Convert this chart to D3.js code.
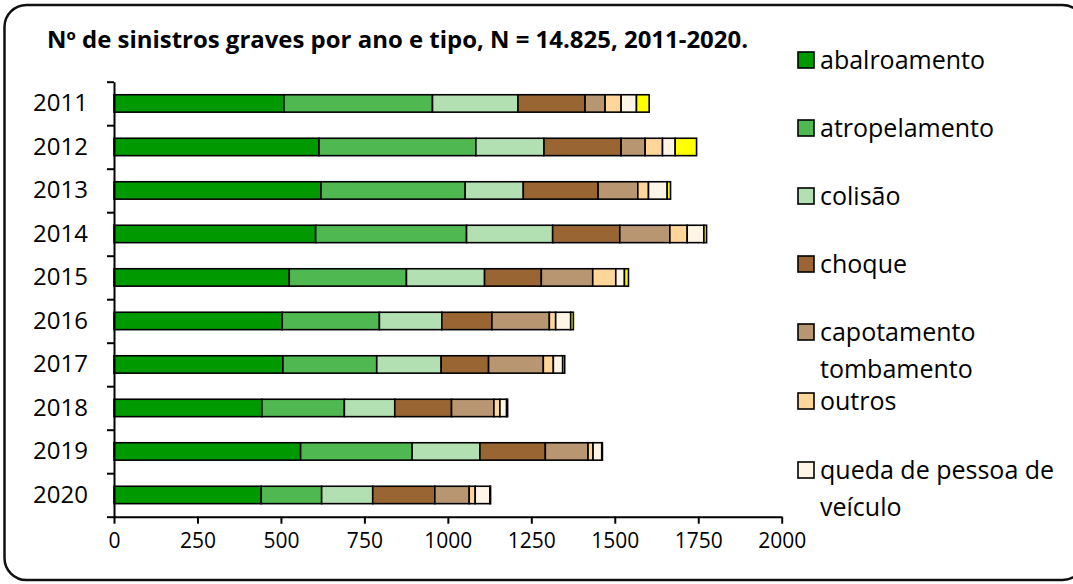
<!DOCTYPE html>
<html>
<head>
<meta charset="utf-8">
<script src="https://cdn.jsdelivr.net/npm/d3@7"></script>
<style>
  body { margin: 0; background: #fff; }
  svg { display: block; font-family: "Open Sans", sans-serif; }
</style>
</head>
<body>
<div id="chart"></div>
<script>
// values
const years = ['2011', '2012', '2013', '2014', '2015', '2016', '2017', '2018', '2019', '2020'];
const abalroamento  = [509, 614, 620, 604, 525, 504, 506, 443, 559, 441];
const atropelamento = [445, 470, 432, 452, 351, 291, 281, 247, 334, 181];
const colisao       = [256, 204, 174, 258, 234, 187, 193, 151, 203, 153];
const choque        = [201, 231, 224, 201, 170, 150, 142, 170, 196, 186];
const capotamento   = [60, 72, 119, 150, 154, 172, 164, 127, 128, 103];
const outros        = [48, 52, 32, 52, 69, 19, 30, 18, 15, 18];
const queda         = [46, 38, 56, 50, 26, 45, 28, 20, 26, 44];
const semLegenda    = [38, 64, 10, 8, 12, 8, 6, 3, 2, 2];

const keys = ['abalroamento', 'atropelamento', 'colisao', 'choque', 'capotamento', 'outros', 'queda', 'extra'];
const colors = ['#009900', '#50b850', '#b3e0b3', '#996633', '#b89672', '#ffd699', '#fff5e6', '#ffff00'];
const legendLabels = [
  ['abalroamento'], ['atropelamento'], ['colisão'], ['choque'],
  ['capotamento', 'tombamento'], ['outros'], ['queda de pessoa de', 'veículo']
];
const xTicks = [0, 250, 500, 750, 1000, 1250, 1500, 1750, 2000];

const table = years.map((y, i) => ({
  year: y,
  abalroamento: abalroamento[i],
  atropelamento: atropelamento[i],
  colisao: colisao[i],
  choque: choque[i],
  capotamento: capotamento[i],
  outros: outros[i],
  queda: queda[i],
  extra: semLegenda[i],
}));

const width = 1073, height = 584;
const svg = d3.select('#chart').append('svg')
  .attr('width', width)
  .attr('height', height);

// rounded frame
svg.append('rect')
  .attr('x', 4.5).attr('y', 5)
  .attr('width', 1080).attr('height', 575)
  .attr('rx', 22)
  .attr('fill', 'none')
  .attr('stroke', '#111')
  .attr('stroke-width', 2.5);

// title
svg.append('text')
  .attr('x', 47).attr('y', 48)
  .style('font-weight', 'bold')
  .style('font-size', '23px')
  .attr('textLength', 701)
  .attr('lengthAdjust', 'spacingAndGlyphs')
  .attr('fill', '#000')
  .text('Nº de sinistros graves por ano e tipo, N = 14.825, 2011-2020.');

const x = d3.scaleLinear().domain([0, 2000]).range([114, 781.7]);
const y = d3.scaleBand().domain(years).range([81.7, 516.7])
  .paddingInner(0.6).paddingOuter(0.3);
const yEdge = d3.scaleLinear().domain([0, 10]).range([81.7, 516.7]);

const color = d3.scaleOrdinal().domain(keys).range(colors);
const series = d3.stack().keys(keys)(table);

// bars
svg.append('g')
  .selectAll('g')
  .data(series)
  .join('g')
  .attr('fill', d => color(d.key))
  .selectAll('rect')
  .data(d => d)
  .join('rect')
  .attr('x', d => x(d[0]))
  .attr('y', d => y(d.data.year))
  .attr('width', d => x(d[1]) - x(d[0]))
  .attr('height', y.bandwidth())
  .attr('stroke', '#000')
  .attr('stroke-width', 1.6);

// x axis
const xAxis = svg.append('g')
  .attr('transform', `translate(0, 516.7)`)
  .call(d3.axisBottom(x).tickValues(xTicks).tickFormat(d3.format('d'))
    .tickSize(7).tickPadding(9).tickSizeOuter(0));
xAxis.select('.domain').attr('stroke', '#000').attr('stroke-width', 2);
xAxis.selectAll('.tick line').attr('stroke', '#000').attr('stroke-width', 2);
xAxis.selectAll('text').style('font-size', '21px').attr('fill', '#000')
  .style('font-family', '"Open Sans", sans-serif');

// y axis: ticks between bands
const yAxis = svg.append('g')
  .attr('transform', `translate(114, 0)`)
  .call(d3.axisLeft(yEdge).ticks(10).tickFormat('').tickSize(7).tickSizeOuter(0));
yAxis.select('.domain').attr('stroke', '#000').attr('stroke-width', 2);
yAxis.selectAll('.tick line').attr('stroke', '#000').attr('stroke-width', 2);

// year labels
const yLabels = svg.append('g')
  .attr('transform', `translate(114, 0)`)
  .call(d3.axisLeft(y).tickSize(0).tickPadding(26));
yLabels.select('.domain').remove();
yLabels.selectAll('text').style('font-size', '24px').attr('fill', '#000')
  .style('font-family', '"Open Sans", sans-serif');

// legend
const legendY = [60, 128, 196, 264, 332, 401, 470];
const legend = svg.append('g');
legendLabels.forEach((lines, i) => {
  const g = legend.append('g').attr('transform', `translate(798, ${legendY[i]})`);
  g.append('rect')
    .attr('x', 0).attr('y', -8)
    .attr('width', 16).attr('height', 16)
    .attr('fill', colors[i])
    .attr('stroke', '#000')
    .attr('stroke-width', 1.6);
  lines.forEach((t, j) => {
    g.append('text')
      .attr('x', 22)
      .attr('y', j * 37)
      .attr('dy', '0.35em')
      .style('font-size', '25px')
      .attr('fill', '#000')
      .text(t);
  });
});
</script>
</body>
</html>
